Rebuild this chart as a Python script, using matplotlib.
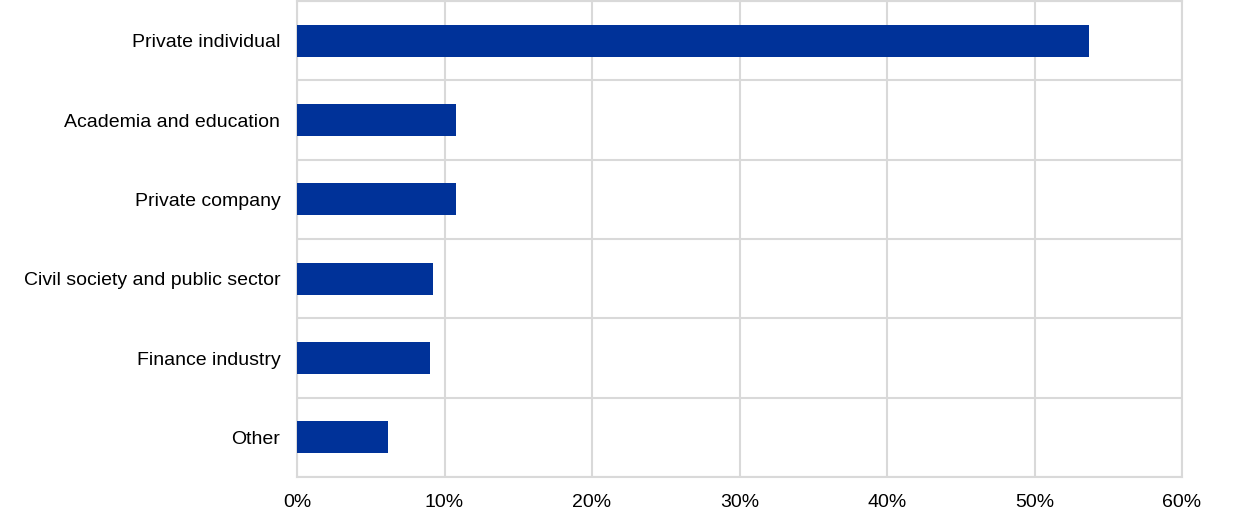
import matplotlib
matplotlib.use("Agg")
import matplotlib.pyplot as plt
import numpy as np
from matplotlib.ticker import FuncFormatter, MultipleLocator

categories = ["Private individual", "Academia and education", "Private company",
              "Civil society and public sector", "Finance industry", "Other"]
values = [53.7, 10.8, 10.8, 9.2, 9.0, 6.2]

plt.rcParams['font.family'] = ['Liberation Sans', 'DejaVu Sans']

fig = plt.figure(figsize=(12.4, 5.17), dpi=100)
ax = fig.add_axes([297/1240, 1 - 477/517, (1182-297)/1240, 476/517])

y = np.arange(len(categories))
ax.barh(y, values, height=0.4, color="#003299", zorder=3)
ax.set_ylim(len(categories) - 0.5, -0.5)
ax.set_xlim(0, 60)
ax.set_yticks(y)
ax.set_yticklabels(categories, fontsize=14)
ax.set_yticks(np.arange(-0.5, len(categories), 1), minor=True)
ax.xaxis.set_major_locator(MultipleLocator(10))
ax.xaxis.set_major_formatter(FuncFormatter(lambda v, p: f"{v:.0f}%"))
ax.tick_params(axis='x', labelsize=14, length=0, pad=12)
ax.tick_params(axis='y', which='both', length=0, pad=12)
ax.grid(axis='x', which='major', color="#d9d9d9", linewidth=1.5, zorder=0)
ax.grid(axis='y', which='minor', color="#d9d9d9", linewidth=1.5, zorder=0)
for s in ax.spines.values():
    s.set_color("#d9d9d9")
    s.set_linewidth(1.5)

fig.savefig("out.png", dpi=100)
